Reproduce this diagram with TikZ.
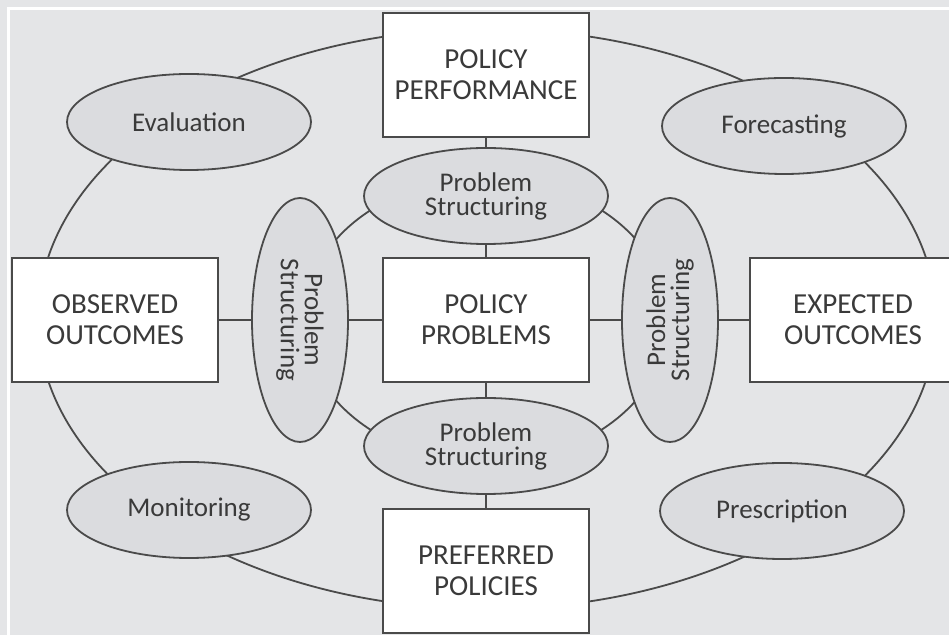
\documentclass[tikz,border=0pt]{standalone}
\usepackage{fontspec}
\setmainfont{Carlito}
\usetikzlibrary{shapes.geometric}
\definecolor{paper}{HTML}{E4E5E7}
\definecolor{ellfill}{HTML}{DBDCDF}
\definecolor{linegray}{HTML}{4A4A4A}
\definecolor{textgray}{HTML}{3A3A3A}
\tikzset{
  outcome/.style={draw=linegray, fill=white, line width=.9pt, minimum width=103pt, minimum height=62pt, inner sep=0pt, align=center, text=textgray, font=\fontsize{14.5}{15.5}\selectfont},
  method/.style={ellipse, draw=linegray, fill=ellfill, line width=.9pt, minimum width=122pt, minimum height=48pt, inner sep=0pt, align=center, text=textgray, font=\fontsize{13.5}{12}\selectfont},
  link/.style={draw=linegray, line width=.9pt}
}

\begin{document}
\begin{tikzpicture}[x=.5pt, y=-.5pt]
	\fill[paper] (0,0) rectangle (949,635);
	\useasboundingbox (0,0) rectangle (949,635);
	\draw[white, line width=1.5pt] (8,635) -- (8,9) -- (949,9);
	\draw[linegray, line width=.9pt] (487,319) ellipse [x radius=449, y radius=290];
	\draw[linegray, line width=.9pt] (486,320) ellipse [x radius=182, y radius=142];
	\node[outcome] (perf) at (486,75) {POLICY\\PERFORMANCE};
	\node[outcome] (problems) at (486,320) {POLICY\\PROBLEMS};
	\node[outcome] (preferred) at (486,571) {PREFERRED\\POLICIES};
	\node[outcome] (observed) at (115,320) {OBSERVED\\OUTCOMES};
	\node[outcome] (expected) at (853,320) {EXPECTED\\OUTCOMES};
	\node[method] (pstop) at (486,196) {Problem\\Structuring};
	\node[method] (psbot) at (486,446) {Problem\\Structuring};
	\node[method, rotate=-90] (psleft) at (300,320) {Problem\\Structuring};
	\node[method, rotate=90] (psright) at (670,320) {Problem\\Structuring};
	\node[method] (eval) at (189,122) {Evaluation};
	\node[method] (fore) at (784,126) {Forecasting};
	\node[method] (moni) at (189,510) {Monitoring};
	\node[method] (presc) at (782,511) {Prescription};
	\draw[link] (perf) -- (pstop);
	\draw[link] (pstop) -- (problems);
	\draw[link] (problems) -- (psbot);
	\draw[link] (psbot) -- (preferred);
	\draw[link] (observed) -- (psleft);
	\draw[link] (psleft) -- (problems);
	\draw[link] (problems) -- (psright);
	\draw[link] (psright) -- (expected);
\end{tikzpicture}
\end{document}
